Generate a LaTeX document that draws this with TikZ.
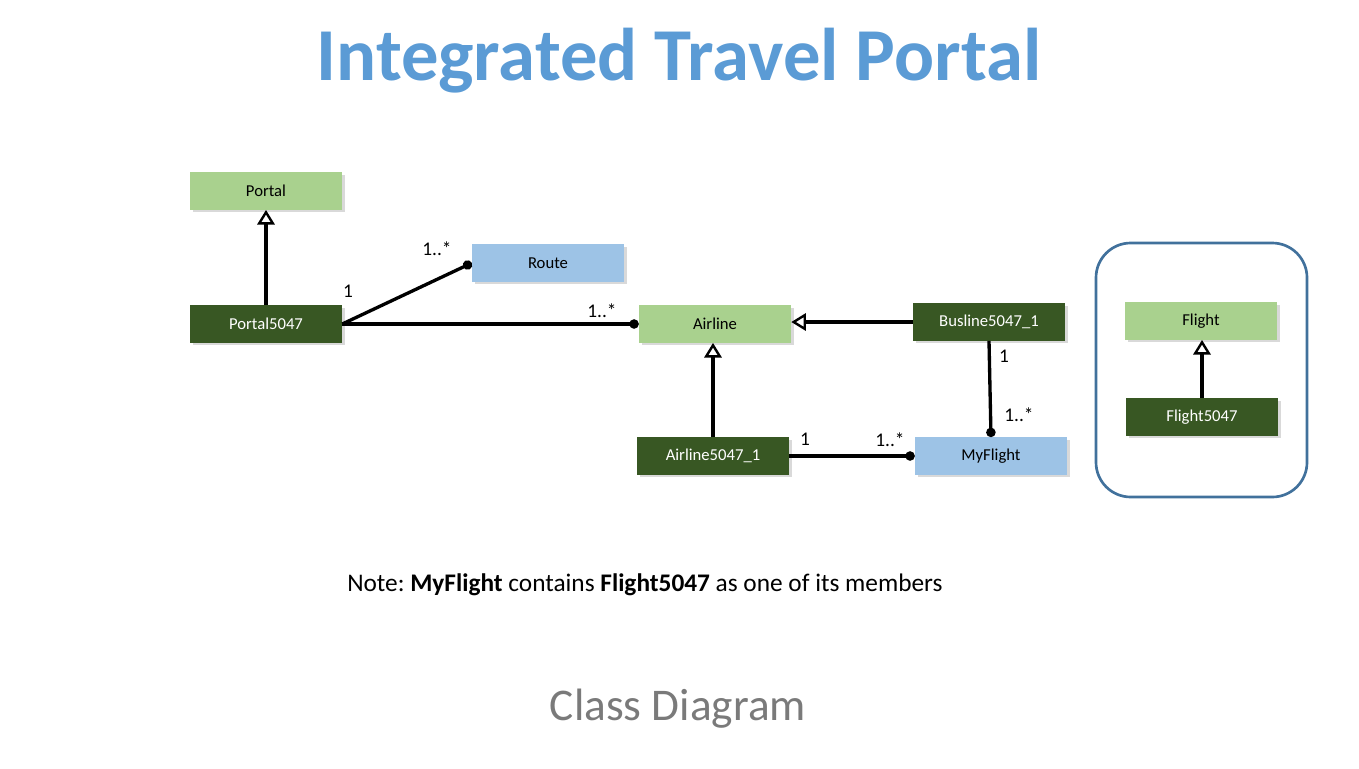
\documentclass[tikz,border=0pt]{standalone}
\usepackage{fontspec}
\setmainfont{Carlito}
\usepackage{tikz}
\usetikzlibrary{arrows.meta, positioning, shadows}
\definecolor{cLight}{HTML}{A9D18E}
\definecolor{cDark}{HTML}{385723}
\definecolor{cSky}{HTML}{9DC3E6}
\definecolor{cTitle}{HTML}{5B9BD5}
\definecolor{cFrame}{HTML}{41719C}
\definecolor{cGrey}{HTML}{7A7A7A}
\tikzset{
	cls/.style     ={rectangle, minimum width=114pt, minimum height=28pt, text centered, font=\fontsize{12.5}{14}\selectfont, drop shadow={shadow xshift=2pt, shadow yshift=-2pt, opacity=0.3}},
	base/.style    ={cls, fill=cLight},
	impl/.style    ={cls, fill=cDark, text=white},
	assoc/.style   ={cls, fill=cSky},
	inherit/.style ={-{Triangle[open, length=11pt, width=13pt, line width=1.8pt]}, line width=2.5pt},
	dotline/.style ={-{Circle[length=7pt]}, line width=2.5pt},
	mult/.style    ={font=\fontsize{14.5}{16}\selectfont, inner sep=0pt},
}

\begin{document}
\begin{tikzpicture}[x=0.75pt, y=-0.75pt]
	\useasboundingbox (0,0) rectangle (1359,768);
	\node[anchor=base, text=cTitle, font=\fontsize{56}{60}\selectfont\bfseries] (title) at (679,80) {Integrated Travel Portal};
	% classes
	\node[base] (portal) at (266,191) {Portal};
	\node[impl] (p5047) at (266,324) {Portal5047};
	\node[assoc] (route) at (548,263) {Route};
	\node[base] (airline) at (715,324) {Airline};
	\node[impl] (bus) at (989,322) {Busline5047\_1};
	\node[impl] (a5047) at (713,456) {Airline5047\_1};
	\node[assoc] (myflight) at (991,456) {MyFlight};
	% flight group
	\draw[cFrame, line width=2pt, rounded corners=26pt] (1096,243) rectangle (1307,497);
	\node[base] (flight) at (1201,321) {Flight};
	\node[impl] (f5047) at (1202,417) {Flight5047};
	% links
	\draw[inherit] (p5047) -- (portal);
	\draw[inherit] (a5047) -- (a5047 |- airline.south);
	\draw[inherit] (bus) -- (bus -| airline.east);
	\draw[inherit] (f5047) -- (f5047 |- flight.south);
	\draw[dotline] (p5047.east) -- (route.west);
	\draw[dotline] (p5047.east) -- (airline.west);
	\draw[dotline] (bus.south) -- (myflight.north);
	\draw[dotline] (a5047.east) -- (myflight.west);
	% multiplicities
	\node[mult] (m1) at (348,291) {1};
	\node[mult] (m2) at (437,249) {1..*};
	\node[mult] (m3) at (602,311) {1..*};
	\node[mult] (m4) at (1004,356) {1};
	\node[mult] (m5) at (1019,415) {1..*};
	\node[mult] (m6) at (805,439) {1};
	\node[mult] (m7) at (890,440) {1..*};
	% notes
	\node[anchor=base west, font=\fontsize{19}{21}\selectfont, inner sep=0pt] (note) at (347,591) {Note:\ \textbf{MyFlight} contains \textbf{Flight5047} as one of its members};
	\node[anchor=base, text=cGrey, font=\fontsize{34}{38}\selectfont] (caption) at (678,720) {Class Diagram};
\end{tikzpicture}
\end{document}
